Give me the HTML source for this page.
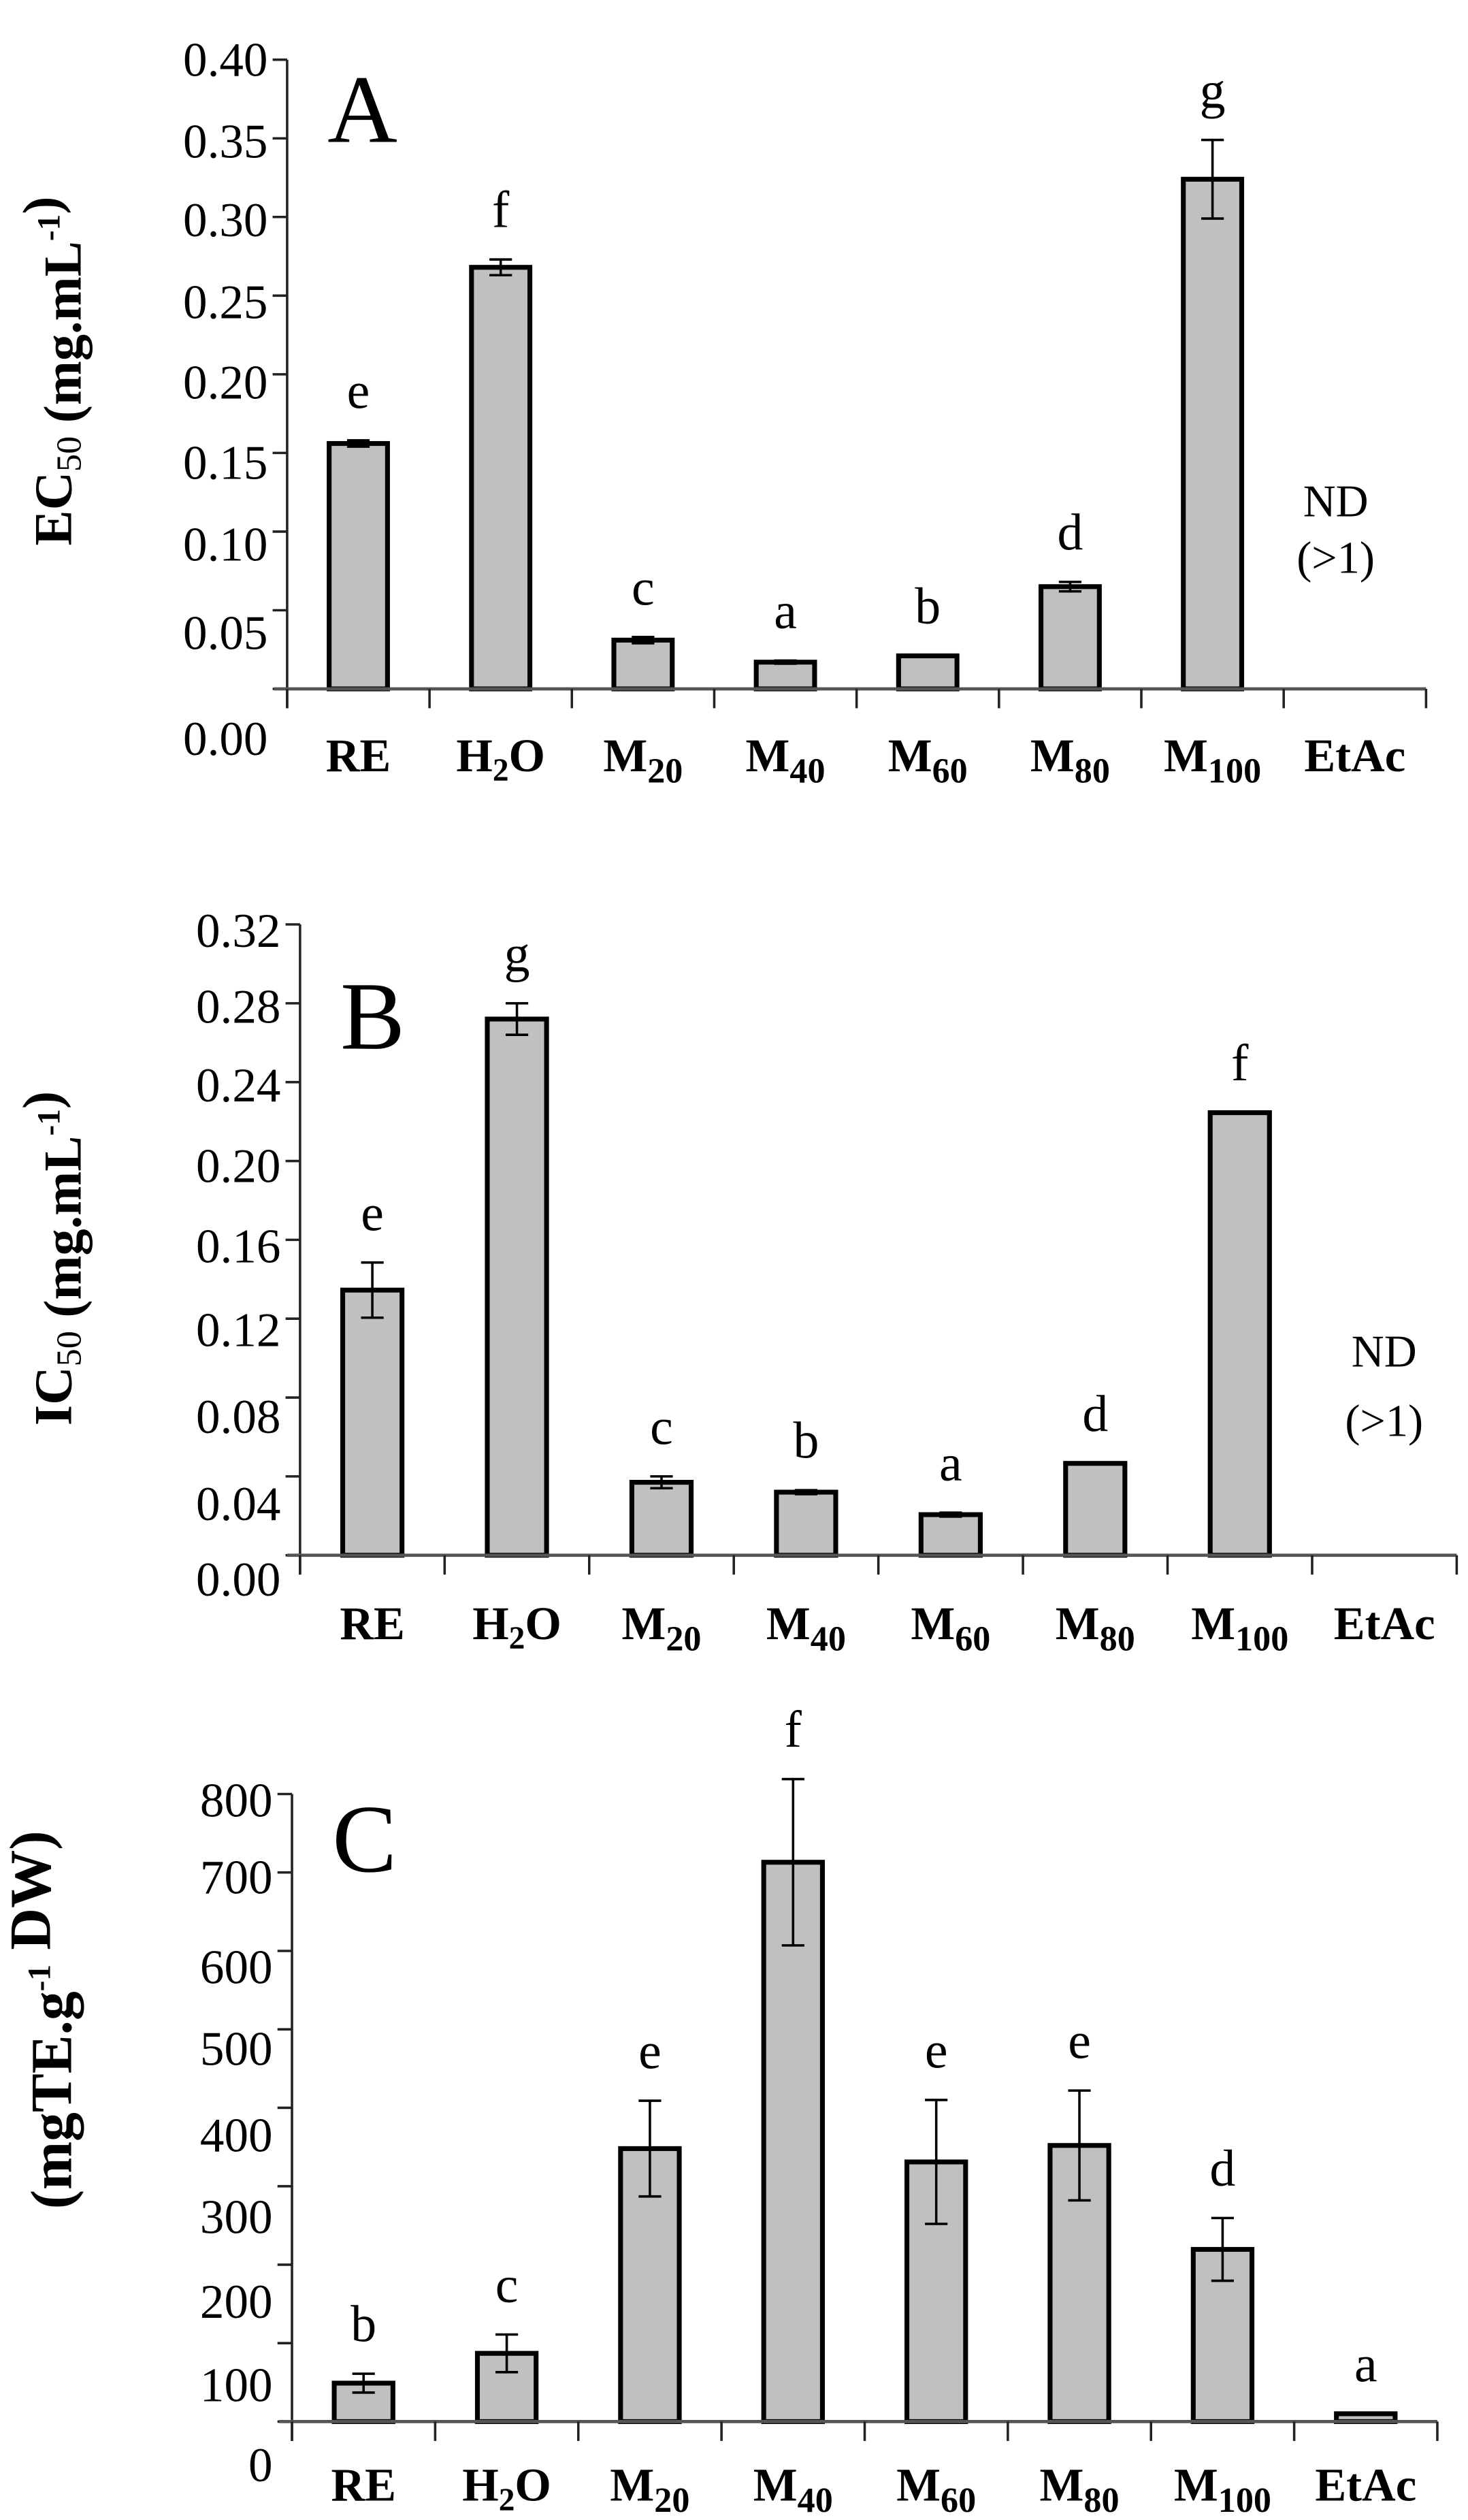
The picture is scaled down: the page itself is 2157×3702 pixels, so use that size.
<!DOCTYPE html>
<html><head><meta charset="utf-8"><style>
html,body{margin:0;padding:0;background:#fff}
svg{display:block}
text{font-family:"Liberation Serif",serif;fill:#000}
</style></head><body>
<svg id="fig" width="2157" height="3702" viewBox="0 0 910 1562" preserveAspectRatio="none" xmlns="http://www.w3.org/2000/svg"></svg>
<script>
const categories = ["RE","H2O","M20","M40","M60","M80","M100","EtAc"];
const aValues = [0.156,0.268,0.031,0.017,0.021,0.065,0.324,null];
const aErrors = [0.002,0.005,0.002,0.001,0.000,0.003,0.025,0];
const aLetters = ["e","f","c","a","b","d","g",""];
const aTicks = [0,0.05,0.10,0.15,0.20,0.25,0.30,0.35,0.40];
const aTickLabels = ["0.00","0.05","0.10","0.15","0.20","0.25","0.30","0.35","0.40"];
const bValues = [0.1345,0.272,0.037,0.032,0.0206,0.0466,0.2245,null];
const bErrors = [0.014,0.008,0.003,0.001,0.001,0,0,0];
const bLetters = ["e","g","c","b","a","d","f",""];
const bTicks = [0,0.04,0.08,0.12,0.16,0.20,0.24,0.28,0.32];
const bTickLabels = ["0.00","0.04","0.08","0.12","0.16","0.20","0.24","0.28","0.32"];
const cValues = [49,87,348,713,331,352,219.5,10];
const cErrors = [12,24,61,106,79,70,40,0];
const cLetters = ["b","c","e","f","e","e","d","a"];
const cTicks = [0,100,200,300,400,500,600,700,800];
const cTickLabels = ["0","100","200","300","400","500","600","700","800"];

const NS="http://www.w3.org/2000/svg";
const svg=document.getElementById('fig');
function mk(tag,attrs,parent){const e=document.createElementNS(NS,tag);for(const k in attrs)e.setAttribute(k,attrs[k]);(parent||svg).appendChild(e);return e;}

const panels=[
 {id:'a',vals:aValues,errs:aErrors,letters:aLetters,ticks:aTicks,labels:aTickLabels,max:0.40,
  x0:178,x1:884,top:37,base:427,labOff:[31,14,8,6,5,4,2,2,0],xlabY:478,letter:'A',letterY:88,letterX:203,
  ytitle:['EC','50',' (mg.mL','-1',')'],ytY:230,ytSize:33,nd:[320,355],ndX:828},
 {id:'b',vals:bValues,errs:bErrors,letters:bLetters,ticks:bTicks,labels:bTickLabels,max:0.32,
  x0:186,x1:903,top:573,base:964,labOff:[15,17,12,7,4,3,2,2,4],xlabY:1016,letter:'B',letterY:650,letterX:211,
  ytitle:['IC','50',' (mg.mL','-1',')'],ytY:780,ytSize:33,nd:[847,890],ndX:858},
 {id:'c',vals:cValues,errs:cErrors,letters:cLetters,ticks:cTicks,labels:cTickLabels,max:800,
  x0:181,x1:891,top:1112,base:1501,labOff:[27,26,23,19,17,12,10,3,4],xlabY:1550,letter:'C',letterY:1160,letterX:206,
  ytitle:['(mgTE.g','-1',' DW)'],ytY:1252,ytSize:36,nd:null}
];

panels.forEach(p=>{
  const g=mk('g',{});
  
  
  const y=v=>p.base-(v/p.max)*(p.base-p.top);
  const n=categories.length, bw=(p.x1-p.x0)/n;
  const xc=i=>p.x0+bw*(i+0.5);
  const ya=mk('line',{x1:p.x0,y1:p.top,x2:p.x0,y2:p.base+12,stroke:'#222','stroke-width':1.5},g);
  
  
  p.ticks.forEach((t,i)=>{
    mk('line',{x1:p.x0-9,y1:y(t),x2:p.x0,y2:y(t),stroke:'#222','stroke-width':1.5},g);
    const tl=mk('text',{x:p.x0-12,y:y(t)+p.labOff[i]+10,'text-anchor':'end','font-size':30},g);
    tl.textContent=p.labels[i];
    
    
  });
  p.vals.forEach((v,i)=>{
    if(v===null)return;
    const w=bw*0.41;
    const r=mk('rect',{x:xc(i)-w/2,y:y(v),width:w,height:p.base-y(v),fill:'#c0c0c0',stroke:'#000','stroke-width':3},g);
    
    
    const e=p.errs[i];
    if(e>0){
      mk('line',{x1:xc(i),y1:y(v+e),x2:xc(i),y2:y(v-e),stroke:'#000','stroke-width':1.5},g);
      mk('line',{x1:xc(i)-7,y1:y(v+e),x2:xc(i)+7,y2:y(v+e),stroke:'#000','stroke-width':1.5},g);
      mk('line',{x1:xc(i)-7,y1:y(v-e),x2:xc(i)+7,y2:y(v-e),stroke:'#000','stroke-width':1.5},g);
    }
    if(p.letters[i]){
      const lt=mk('text',{x:xc(i),y:y(v+e)-20,'text-anchor':'middle','font-size':32},g);
      lt.textContent=p.letters[i];
      
      
    }
  });
  const xa=mk('line',{x1:p.x0-8,y1:p.base,x2:p.x1,y2:p.base,stroke:'#555','stroke-width':2},g);
  
  
  for(let i=0;i<=n;i++) mk('line',{x1:p.x0+bw*i,y1:p.base,x2:p.x0+bw*i,y2:p.base+12,stroke:'#222','stroke-width':1.5},g);
  categories.forEach((c,i)=>{
    const t=mk('text',{x:xc(i),y:p.xlabY,'text-anchor':'middle','font-size':29,'font-weight':'bold'},g);
    
    
    const m=c.match(/^([A-Z])(\d+)$/);
    if(c==='H2O'){t.innerHTML='H<tspan font-size="20" dy="6">2</tspan><tspan dy="-6">O</tspan>';}
    else if(m){t.innerHTML=m[1]+'<tspan font-size="22" dy="7">'+m[2]+'</tspan>';}
    else t.textContent=c;
  });
  const L=mk('text',{x:p.letterX,y:p.letterY,'font-size':60},g);
  L.textContent=p.letter;
  
  
  const yt=mk('text',{x:0,y:0,'text-anchor':'middle','font-size':p.ytSize,'font-weight':'bold',transform:`translate(44,${p.ytY}) rotate(-90)`},g);
  
  
  let html='';
  p.ytitle.forEach(s=>{
    if(s==='50') html+='<tspan font-size="22" dy="6" font-weight="normal">50</tspan><tspan dy="-6"></tspan>';
    else if(s==='-1') html+='<tspan font-size="20" dy="-13">-1</tspan><tspan dy="13"></tspan>';
    else html+=s;
  });
  yt.innerHTML=html;
  if(p.nd){
    const n1=mk('text',{x:p.ndX,y:p.nd[0],'text-anchor':'middle','font-size':28},g);
    n1.textContent='ND';
    
    
    const n2=mk('text',{x:p.ndX,y:p.nd[1],'text-anchor':'middle','font-size':28},g);
    n2.textContent='(>1)';
    
    
  }
});
</script>
</body></html>
